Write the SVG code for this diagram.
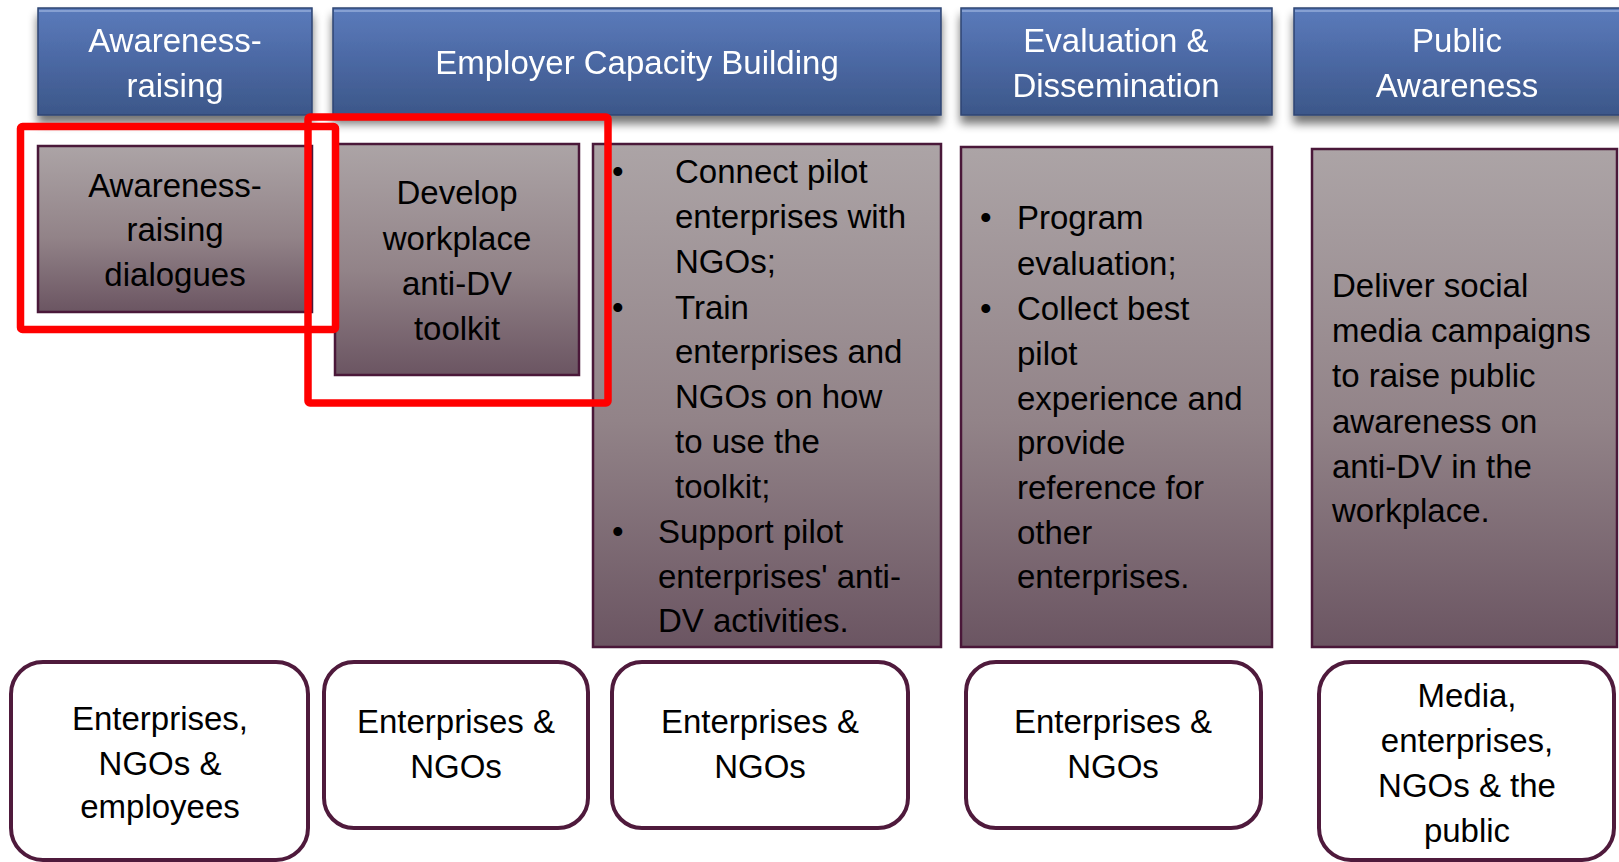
<svg xmlns="http://www.w3.org/2000/svg" width="1619" height="862" viewBox="0 0 1619 862">
  <style>
    text { font-family: "Liberation Sans", Arial, sans-serif; font-size: 33px; fill: #000; }
    .hd { fill: #ffffff; text-anchor: middle; }
    .c { text-anchor: middle; }
    .hbox { fill: url(#blue); stroke: #2f4573; stroke-width: 1.5; }
    .hline { fill: none; stroke: #86a0d2; stroke-width: 2; }
    .act { fill: url(#mauve); stroke: #4a1839; stroke-width: 2.5; }
    .aud { fill: #ffffff; stroke: #4f1a3c; stroke-width: 4; }
    .hl { fill: none; stroke: #ff0000; stroke-width: 7.5; }
  </style>
  <defs>
    <linearGradient id="blue" x1="0" y1="0" x2="0" y2="1">
      <stop offset="0" stop-color="#5b7bbb"/>
      <stop offset="0.5" stop-color="#4b68a3"/>
      <stop offset="1" stop-color="#3c5789"/>
    </linearGradient>
    <linearGradient id="mauve" x1="0" y1="0" x2="0" y2="1">
      <stop offset="0" stop-color="#aca4a6"/>
      <stop offset="0.55" stop-color="#928388"/>
      <stop offset="1" stop-color="#6b5562"/>
    </linearGradient>
    <filter id="shadow" x="-5%" y="-10%" width="110%" height="140%">
      <feGaussianBlur in="SourceAlpha" stdDeviation="5"/>
      <feOffset dx="0" dy="8" result="b"/>
      <feComponentTransfer><feFuncA type="linear" slope="0.55"/></feComponentTransfer>
      <feMerge><feMergeNode/><feMergeNode in="SourceGraphic"/></feMerge>
    </filter>
  </defs>

  <rect width="1619" height="862" fill="#ffffff"/>

  <!-- column headers -->
  <g id="header-awareness" filter="url(#shadow)">
    <rect class="hbox" x="38" y="8" width="274" height="107"/>
    <line class="hline" x1="39" y1="11" x2="311" y2="11"/>
    <text class="hd" x="175" y="52">Awareness-</text>
    <text class="hd" x="175" y="97">raising</text>
  </g>
  <g id="header-capacity" filter="url(#shadow)">
    <rect class="hbox" x="333" y="8" width="608" height="107"/>
    <line class="hline" x1="334" y1="11" x2="940" y2="11"/>
    <text class="hd" x="637" y="74">Employer Capacity Building</text>
  </g>
  <g id="header-evaluation" filter="url(#shadow)">
    <rect class="hbox" x="961" y="8" width="311" height="107"/>
    <line class="hline" x1="962" y1="11" x2="1271" y2="11"/>
    <text class="hd" x="1116" y="52">Evaluation &amp;</text>
    <text class="hd" x="1116" y="97">Dissemination</text>
  </g>
  <g id="header-public" filter="url(#shadow)">
    <rect class="hbox" x="1294" y="8" width="335" height="107"/>
    <line class="hline" x1="1295" y1="11" x2="1619" y2="11"/>
    <text class="hd" x="1457" y="52">Public</text>
    <text class="hd" x="1457" y="97">Awareness</text>
  </g>

  <!-- activity boxes -->
  <g id="act-dialogues">
    <rect class="act" x="38" y="146" width="274" height="166"/>
    <text class="c" x="175" y="197">Awareness-</text>
    <text class="c" x="175" y="241">raising</text>
    <text class="c" x="175" y="286">dialogues</text>
  </g>
  <g id="act-toolkit">
    <rect class="act" x="335" y="144" width="244" height="231"/>
    <text class="c" x="457" y="204">Develop</text>
    <text class="c" x="457" y="250">workplace</text>
    <text class="c" x="457" y="295">anti-DV</text>
    <text class="c" x="457" y="340">toolkit</text>
  </g>
  <g id="act-connect">
    <rect class="act" x="593" y="144" width="348" height="503"/>
    <text x="612" y="183">•</text>
    <text x="675" y="183">Connect pilot</text>
    <text x="675" y="228">enterprises with</text>
    <text x="675" y="273">NGOs;</text>
    <text x="612" y="319">•</text>
    <text x="675" y="319">Train</text>
    <text x="675" y="363">enterprises and</text>
    <text x="675" y="408">NGOs on how</text>
    <text x="675" y="453">to use the</text>
    <text x="675" y="498">toolkit;</text>
    <text x="612" y="543">•</text>
    <text x="658" y="543">Support pilot</text>
    <text x="658" y="588">enterprises' anti-</text>
    <text x="658" y="632">DV activities.</text>
  </g>
  <g id="act-evaluation">
    <rect class="act" x="961" y="147" width="311" height="500"/>
    <text x="980" y="229">•</text>
    <text x="1017" y="229">Program</text>
    <text x="1017" y="275">evaluation;</text>
    <text x="980" y="320">•</text>
    <text x="1017" y="320">Collect best</text>
    <text x="1017" y="365">pilot</text>
    <text x="1017" y="410">experience and</text>
    <text x="1017" y="454">provide</text>
    <text x="1017" y="499">reference for</text>
    <text x="1017" y="544">other</text>
    <text x="1017" y="588">enterprises.</text>
  </g>
  <g id="act-media">
    <rect class="act" x="1312" y="149" width="305" height="498"/>
    <text x="1332" y="297">Deliver social</text>
    <text x="1332" y="342">media campaigns</text>
    <text x="1332" y="387">to raise public</text>
    <text x="1332" y="433">awareness on</text>
    <text x="1332" y="478">anti-DV in the</text>
    <text x="1332" y="522">workplace.</text>
  </g>

  <!-- target audiences -->
  <g id="aud-1">
    <rect class="aud" x="11" y="662" width="297" height="198" rx="32"/>
    <text class="c" x="160" y="730">Enterprises,</text>
    <text class="c" x="160" y="775">NGOs &amp;</text>
    <text class="c" x="160" y="818">employees</text>
  </g>
  <g id="aud-2">
    <rect class="aud" x="324" y="662" width="264" height="166" rx="30"/>
    <text class="c" x="456" y="733">Enterprises &amp;</text>
    <text class="c" x="456" y="778">NGOs</text>
  </g>
  <g id="aud-3">
    <rect class="aud" x="612" y="662" width="296" height="166" rx="30"/>
    <text class="c" x="760" y="733">Enterprises &amp;</text>
    <text class="c" x="760" y="778">NGOs</text>
  </g>
  <g id="aud-4">
    <rect class="aud" x="966" y="662" width="295" height="166" rx="30"/>
    <text class="c" x="1113" y="733">Enterprises &amp;</text>
    <text class="c" x="1113" y="778">NGOs</text>
  </g>
  <g id="aud-5">
    <rect class="aud" x="1319" y="662" width="295" height="198" rx="32"/>
    <text class="c" x="1467" y="707">Media,</text>
    <text class="c" x="1467" y="752">enterprises,</text>
    <text class="c" x="1467" y="797">NGOs &amp; the</text>
    <text class="c" x="1467" y="842">public</text>
  </g>

  <!-- highlight frames -->
  <g id="highlights">
    <rect class="hl" x="20.5" y="126.5" width="315" height="203" rx="2"/>
    <rect class="hl" x="308" y="117" width="300" height="286" rx="2"/>
  </g>
</svg>
